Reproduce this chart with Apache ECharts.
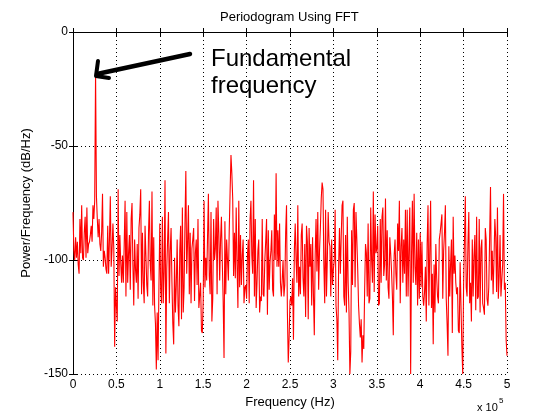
<!DOCTYPE html>
<html>
<head>
<meta charset="utf-8">
<script src="https://cdn.jsdelivr.net/npm/echarts@6/dist/echarts.min.js"></script>
<style>
  html, body { margin: 0; padding: 0; background: #fff; }
  #main { width: 560px; height: 420px; }
</style>
</head>
<body>
<div id="main"></div>
<script>
// frequency bins are 0.01 x 10^5 Hz apart
var freqStep = 0.01;

// power (dB/Hz), one block per 1e5 Hz
var power0to1 = [-79, -96, -100, -90, -99, -92, -102, -106, -82, -97,
  -76, -99, -100, -88, -81, -99, -77, -97, -93, -92,
  -89, -85, -92, -76, -82, -74, -18, -72, -82, -90,
  -82, -93, -96, -88, -71, -103, -96, -99, -104, -106,
  -85, -106, -91, -72, -103, -95, -84, -95, -138, -112,
  -120, -127, -69, -107, -89, -101, -110, -98, -110, -93,
  -74, -116, -79, -110, -97, -89, -113, -82, -75, -102,
  -120, -91, -104, -110, -93, -117, -86, -80, -69, -115,
  -88, -110, -119, -85, -98, -111, -116, -88, -74, -102,
  -109, -70, -120, -90, -120, -128, -148, -123, -144, -112];
var power1to2 = [-84, -113, -119, -81, -119, -105, -65, -141, -104, -91,
  -79, -119, -96, -86, -110, -128, -137, -99, -123, -111,
  -91, -120, -129, -96, -85, -126, -77, -123, -112, -84,
  -61, -106, -92, -76, -115, -88, -119, -95, -91, -86,
  -118, -97, -91, -111, -82, -121, -121, -110, -131, -132,
  -118, -74, -112, -99, -109, -90, -71, -107, -115, -79,
  -127, -117, -82, -100, -95, -77, -115, -74, -88, -109,
  -91, -81, -101, -118, -143, -83, -115, -91, -100, -109,
  -87, -70, -54, -62, -73, -107, -88, -108, -77, -102,
  -121, -74, -112, -89, -111, -98, -91, -119, -112, -111];
var power2to3 = [-117, -98, -91, -119, -82, -74, -98, -106, -65, -116,
  -82, -121, -110, -96, -91, -123, -116, -118, -82, -115,
  -116, -100, -92, -82, -124, -87, -113, -101, -96, -87,
  -113, -116, -80, -100, -62, -103, -87, -103, -84, -110,
  -116, -109, -100, -116, -111, -88, -76, -123, -145, -134,
  -118, -116, -120, -108, -135, -96, -84, -100, -110, -76,
  -116, -103, -115, -89, -84, -108, -116, -93, -125, -85,
  -92, -126, -86, -103, -93, -120, -90, -115, -133, -98,
  -82, -105, -79, -113, -96, -86, -73, -66, -69, -102,
  -119, -78, -116, -100, -79, -92, -94, -116, -91, -111];
var power3to4 = [-104, -100, -78, -120, -126, -144, -103, -86, -106, -90,
  -76, -74, -116, -120, -89, -123, -81, -110, -123, -150,
  -140, -87, -111, -78, -75, -112, -79, -91, -104, -120,
  -128, -134, -126, -145, -133, -139, -113, -93, -97, -116,
  -84, -119, -117, -77, -100, -110, -70, -114, -80, -97,
  -95, -85, -120, -119, -82, -110, -81, -77, -107, -102,
  -73, -109, -87, -112, -117, -90, -97, -105, -116, -133,
  -98, -91, -106, -113, -84, -96, -74, -119, -94, -86,
  -110, -91, -106, -78, -116, -78, -116, -95, -77, -150,
  -98, -74, -110, -71, -103, -111, -88, -120, -91, -117];
var power4to5 = [-88, -112, -92, -116, -120, -114, -103, -127, -93, -76,
  -120, -97, -74, -121, -106, -137, -102, -123, -93, -108,
  -116, -119, -91, -88, -84, -80, -117, -96, -88, -76,
  -117, -128, -142, -94, -116, -102, -91, -132, -81, -106,
  -98, -110, -115, -112, -131, -132, -101, -120, -138, -150,
  -111, -91, -72, -112, -116, -93, -79, -119, -110, -127,
  -91, -116, -98, -89, -122, -81, -117, -116, -82, -123,
  -95, -91, -119, -121, -124, -86, -91, -117, -120, -112,
  -90, -68, -109, -96, -115, -100, -82, -90, -114, -77,
  -117, -107, -89, -116, -116, -102, -71, -113, -110, -135, -142];

var xTicks = [0, 0.5, 1, 1.5, 2, 2.5, 3, 3.5, 4, 4.5, 5];
var yTicks = [-150, -100, -50, 0];

var powerAll = power0to1.concat(power1to2, power2to3, power3to4, power4to5);
var seriesData = [];
for (var i = 0; i < powerAll.length; i++) {
  seriesData.push([+(i * freqStep).toFixed(2), powerAll[i]]);
}

var fontName = '"Liberation Sans", Arial, Helvetica, sans-serif';
var nameStyle = { color: '#000', fontFamily: fontName, fontSize: 13 };

var myChart = echarts.init(document.getElementById('main'));

option = {
  animation: false,
  backgroundColor: '#fff',
  title: {
    text: 'Periodogram Using FFT',
    left: 220,
    top: 11,
    padding: 0,
    textStyle: { color: '#000', fontFamily: fontName, fontSize: 13, fontWeight: 'normal' }
  },
  grid: { left: 73, top: 32, right: 53, bottom: 46, containLabel: false },
  xAxis: [{
    type: 'value',
    min: xTicks[0],
    max: xTicks[xTicks.length - 1],
    interval: 0.5,
    name: 'Frequency (Hz)',
    nameLocation: 'middle',
    nameGap: 22,
    nameTextStyle: nameStyle,
    axisLine: { lineStyle: { color: '#000', width: 1 } },
    axisTick: { inside: true, length: 4, lineStyle: { color: '#000' } },
    axisLabel: { color: '#000', fontFamily: fontName, fontSize: 12, margin: 5 },
    splitLine: { show: true, lineStyle: { color: '#000', type: [1, 3], width: 1 } }
  }, {
    type: 'value',
    position: 'top',
    min: xTicks[0],
    max: xTicks[xTicks.length - 1],
    interval: 0.5,
    axisLine: { lineStyle: { color: '#000', width: 1 } },
    axisTick: { inside: true, length: 4, lineStyle: { color: '#000' } },
    axisLabel: { show: false },
    splitLine: { show: false }
  }],
  yAxis: [{
    type: 'value',
    min: yTicks[0],
    max: yTicks[yTicks.length - 1],
    interval: 50,
    name: 'Power/Frequency (dB/Hz)',
    nameLocation: 'middle',
    nameGap: 31,
    nameTextStyle: nameStyle,
    axisLine: { show: true, lineStyle: { color: '#000', width: 1 } },
    axisTick: { show: true, inside: true, length: 4, lineStyle: { color: '#000' } },
    axisLabel: { color: '#000', fontFamily: fontName, fontSize: 12, margin: 5 },
    splitLine: { show: true, lineStyle: { color: '#000', type: [1, 3], width: 1 } }
  }, {
    type: 'value',
    position: 'right',
    min: yTicks[0],
    max: yTicks[yTicks.length - 1],
    interval: 50,
    axisLine: { show: true, lineStyle: { color: '#000', width: 1 } },
    axisTick: { show: true, inside: true, length: 4, lineStyle: { color: '#000' } },
    axisLabel: { show: false },
    splitLine: { show: false }
  }],
  series: [{
    type: 'line',
    data: seriesData,
    xAxisIndex: 0,
    yAxisIndex: 0,
    showSymbol: false,
    symbol: 'none',
    lineStyle: { color: '#ff0000', width: 1.1 },
    z: 3
  }],
  graphic: [
    // arrow pointing at the fundamental
    { type: 'line', z: 10, shape: { x1: 190, y1: 54, x2: 97, y2: 74 },
      style: { stroke: '#000', lineWidth: 4.5, lineCap: 'round' } },
    { type: 'polyline', z: 10, shape: { points: [[98, 61], [96, 76], [109, 78]] },
      style: { stroke: '#000', lineWidth: 4, fill: null, lineJoin: 'round', lineCap: 'round' } },
    { type: 'text', z: 10, left: 211, top: 46,
      style: { text: 'Fundamental\nfrequency', fill: '#000', font: '24px ' + fontName, lineHeight: 27 } },
    // exponent of the x axis
    { type: 'text', left: 477, top: 402,
      style: { text: 'x 10', fill: '#000', font: '11px ' + fontName } },
    { type: 'text', left: 499, top: 397,
      style: { text: '5', fill: '#000', font: '8px ' + fontName } }
  ]
};

myChart.setOption(option);
</script>
</body>
</html>
